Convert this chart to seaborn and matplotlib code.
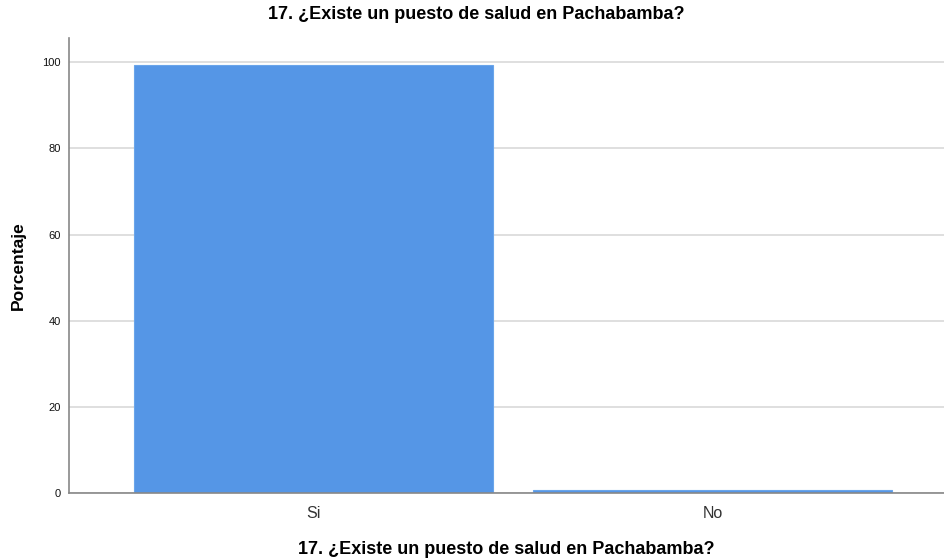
import pandas as pd
import seaborn as sns
import matplotlib.pyplot as plt

categorias = ["Si", "No"]
porcentajes = [99.4, 0.6]
titulo = "17. ¿Existe un puesto de salud en Pachabamba?"

df = pd.DataFrame({"respuesta": categorias, "porcentaje": porcentajes})

sns.set_style("white")
plt.rcParams['font.family'] = ['Liberation Sans', 'DejaVu Sans']
plt.rcParams['text.color'] = "black"
plt.rcParams['axes.labelcolor'] = "black"

fig = plt.figure(figsize=(9.44, 5.6), dpi=100)
ax = fig.add_axes([0.0731, 0.1196, 0.9269, 0.8125])

ax.yaxis.grid(True, color="#d9d9d9", linewidth=1.2)
ax.set_axisbelow(True)
sns.barplot(data=df, x="respuesta", y="porcentaje", color="#5596E6",
            saturation=1, width=0.9, edgecolor="#6aa5ea", linewidth=0.8, ax=ax)

ax.set_xlim(-0.613, 1.58)
ax.set_ylim(0, 105.6)
ax.set_yticks([0, 20, 40, 60, 80, 100])

for lado in ["top", "right"]:
    ax.spines[lado].set_visible(False)
for lado in ["left", "bottom"]:
    ax.spines[lado].set_color("#888888")
    ax.spines[lado].set_linewidth(1.2)

ax.tick_params(axis="y", labelsize=8, length=3, color="#888888", pad=3, labelcolor="#111111")
ax.tick_params(axis="x", labelsize=11.5, length=0, pad=9, labelcolor="#333333")

ax.set_ylabel("Porcentaje", fontsize=12.5, fontweight="bold", labelpad=12)
ax.set_xlabel(titulo, fontsize=13, fontweight="bold", labelpad=15)
fig.suptitle(titulo, fontsize=13, fontweight="bold", x=0.505, y=0.99)

fig.savefig("out.png", dpi=100)
